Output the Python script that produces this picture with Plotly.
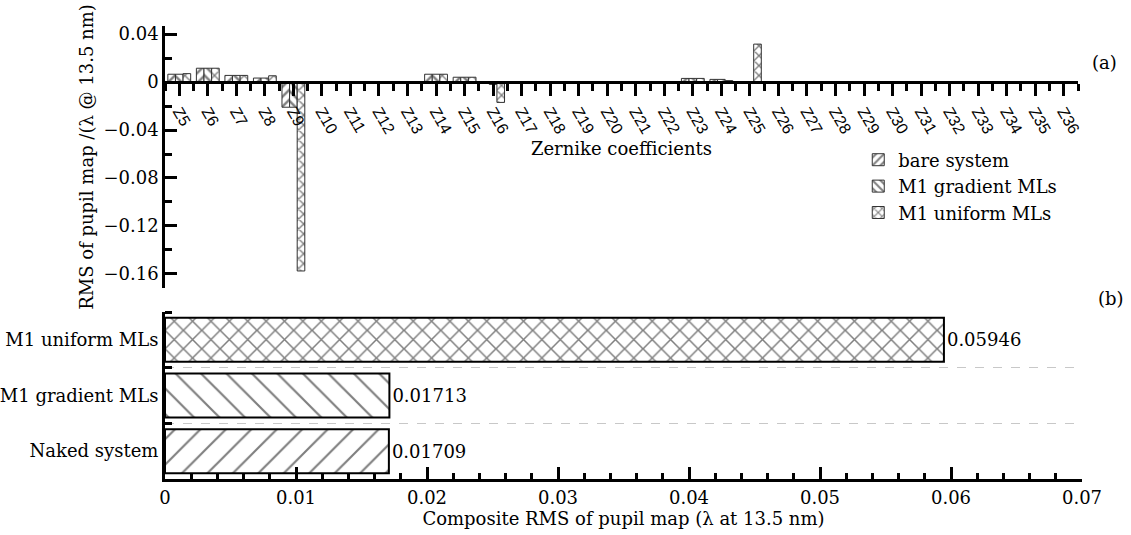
import plotly.graph_objects as go

# ---------------- data ----------------
zernike_labels = ["Z5", "Z6", "Z7", "Z8", "Z9", "Z10", "Z11", "Z12", "Z13", "Z14",
                  "Z15", "Z16", "Z17", "Z18", "Z19", "Z20", "Z21", "Z22", "Z23", "Z24",
                  "Z25", "Z26", "Z27", "Z28", "Z29", "Z30", "Z31", "Z32", "Z33", "Z34",
                  "Z35", "Z36"]
zernike_pos = list(range(len(zernike_labels)))

bare_system = [0.0065, 0.0115, 0.0055, 0.0033, -0.021, 0, 0, 0, 0, 0.0065,
               0.004, -0.001, 0, 0, 0, 0, 0, 0, 0.003, 0.0022,
               0, 0, 0, 0, 0, 0, 0, 0, 0, 0, 0, 0]
m1_gradient = [0.0065, 0.0115, 0.0055, 0.0033, -0.021, 0, 0, 0, 0, 0.0065,
               0.004, -0.002, 0, 0, 0, 0, 0, 0, 0.003, 0.0022,
               0, 0, 0, 0, 0, 0, 0, 0, 0, 0, 0, 0]
m1_uniform = [0.007, 0.0115, 0.0055, 0.0052, -0.1575, 0, 0, 0, 0, 0.0065,
              0.004, -0.017, 0, 0, 0, 0, 0, 0, 0.003, 0.0012,
              0.0316, 0, 0, 0, 0, 0, 0, 0, 0, 0, 0, 0]

top_ytick_vals = [0.04, 0, -0.04, -0.08, -0.12, -0.16]
top_ytick_text = ["0.04", "0", "\u22120.04", "\u22120.08", "\u22120.12", "\u22120.16"]

composite_labels = ["Naked system", "M1 gradient MLs", "M1 uniform MLs"]
composite_pos = [0, 1, 2]
composite_rms = [0.01709, 0.01713, 0.05946]
composite_text = ["0.01709", "0.01713", "0.05946"]
composite_patterns = ["/", "\\", "x"]
composite_pattern_size = [18, 18, 13]

bottom_xtick_vals = [0, 0.01, 0.02, 0.03, 0.04, 0.05, 0.06, 0.07]
bottom_xtick_text = ["0", "0.01", "0.02", "0.03", "0.04", "0.05", "0.06", "0.07"]

# ---------------- layout geometry ----------------
W, H = 1131, 535
ML, MR, MT, MB = 165, 49, 26, 56
plot_h = H - MT - MB
plot_w = W - ML - MR
top_bottom_px = 288
bot_top_px = 312
top_domain = [(H - MB - top_bottom_px) / plot_h, 1.0]
bot_domain = [0.0, (H - MB - bot_top_px) / plot_h]
top_xdomain_end = (1078 - ML) / plot_w

top_yrange = [-0.1717, 0.0467]
zero_frac = (0 - top_yrange[0]) / (top_yrange[1] - top_yrange[0])
xaxis_pos = top_domain[0] + (top_domain[1] - top_domain[0]) * zero_frac

SERIF = "DejaVu Serif"
SANS = "Liberation Sans"
FS = 18

fig = go.Figure()

top_series = [
    ("bare system", bare_system, "/"),
    ("M1 gradient MLs", m1_gradient, "\\"),
    ("M1 uniform MLs", m1_uniform, "x"),
]
for name, vals, pat in top_series:
    fig.add_trace(go.Bar(
        x=zernike_pos, y=vals, name=name,
        xaxis="x", yaxis="y",
        marker=dict(color="white", line=dict(color="#333", width=1),
                    pattern=dict(shape=pat, fgcolor="black", bgcolor="white",
                                 size=7, solidity=0.35)),
        showlegend=True,
    ))

fig.add_trace(go.Bar(
    x=composite_rms, y=composite_pos, orientation="h",
    xaxis="x2", yaxis="y2", showlegend=False,
    text=composite_text, textposition="outside", cliponaxis=False,
    textfont=dict(family=SERIF, size=FS, color="black"),
    width=0.79,
    marker=dict(color="white", line=dict(color="black", width=2),
                pattern=dict(shape=composite_patterns, fgcolor="black", bgcolor="white",
                             size=composite_pattern_size, solidity=[0.12, 0.12, 0.22])),
))

fig.update_layout(
    width=W, height=H,
    margin=dict(l=ML, r=MR, t=MT, b=MB, autoexpand=False),
    paper_bgcolor="white", plot_bgcolor="white",
    barmode="group", bargap=0.2, bargroupgap=0,
    font=dict(family=SERIF, size=FS, color="black"),
    legend=dict(x=0.756, y=0.745, xanchor="left", yanchor="top",
                font=dict(family=SERIF, size=FS, color="black"),
                bgcolor="rgba(0,0,0,0)", tracegroupgap=0, itemwidth=30),
    xaxis=dict(
        domain=[0, top_xdomain_end], anchor="free", position=xaxis_pos,
        range=[-0.5, len(zernike_labels) - 0.5],
        tickmode="array", tickvals=zernike_pos, ticktext=zernike_labels,
        tickangle=60, tickfont=dict(family=SANS, size=16, color="black"),
        ticks="outside", ticklen=12, tickwidth=2.5, tickcolor="black",
        minor=dict(tickmode="linear", tick0=0.5, dtick=1, ticks="outside",
                   ticklen=7, tickwidth=2.5, tickcolor="black", showgrid=False),
        showline=True, linecolor="black", linewidth=3,
        showgrid=False, zeroline=False,
        title=dict(text="Zernike coefficients", standoff=6,
                   font=dict(family=SERIF, size=FS, color="black")),
    ),
    yaxis=dict(
        domain=top_domain, anchor="x", range=top_yrange,
        tickmode="array", tickvals=top_ytick_vals, ticktext=top_ytick_text,
        ticks="inside", ticklen=12, tickwidth=2.5, tickcolor="black",
        minor=dict(tickmode="linear", tick0=0.02, dtick=0.04, ticks="inside",
                   ticklen=7, tickwidth=2.5, tickcolor="black", showgrid=False),
        tickfont=dict(family=SERIF, size=FS, color="black"),
        showline=True, linecolor="black", linewidth=2.5,
        showgrid=False, zeroline=False,
        title=dict(text="RMS of pupil map /(\u03bb @ 13.5 nm)", standoff=6,
                   font=dict(family=SERIF, size=FS, color="black")),
    ),
    xaxis2=dict(
        domain=[0, 1], anchor="y2", range=[0, 0.07],
        tickmode="array", tickvals=bottom_xtick_vals, ticktext=bottom_xtick_text,
        ticks="inside", ticklen=12, tickwidth=2.5, tickcolor="black",
        minor=dict(tickmode="linear", tick0=0, dtick=0.002, ticks="inside",
                   ticklen=6, tickwidth=2.5, tickcolor="black", showgrid=False),
        tickfont=dict(family=SERIF, size=FS, color="black"),
        showline=True, linecolor="black", linewidth=3,
        showgrid=False, zeroline=False,
        title=dict(text="Composite RMS of pupil map (\u03bb at 13.5 nm)", standoff=2,
                   font=dict(family=SERIF, size=FS, color="black")),
    ),
    yaxis2=dict(
        domain=bot_domain, anchor="x2", range=[-0.5, 2.5],
        tickmode="array", tickvals=composite_pos, ticktext=composite_labels,
        ticks="", tickfont=dict(family=SERIF, size=FS, color="black"),
        minor=dict(tickmode="array", tickvals=[0.5, 1.5, 2.5], ticks="inside",
                   ticklen=7, tickwidth=2.5, tickcolor="black",
                   showgrid=True, gridcolor="#c8c8c8", griddash="dash", gridwidth=1),
        showline=True, linecolor="black", linewidth=3,
        showgrid=False, zeroline=False,
    ),
    annotations=[
        dict(text="(a)", xref="paper", yref="paper", x=1.0 + 8 / plot_w,
             y=(H - MB - 63) / plot_h, xanchor="left", yanchor="middle",
             showarrow=False, font=dict(family=SERIF, size=FS, color="black")),
        dict(text="(b)", xref="paper", yref="paper", x=1.0 + 14 / plot_w,
             y=(H - MB - 298) / plot_h, xanchor="left", yanchor="middle",
             showarrow=False, font=dict(family=SERIF, size=FS, color="black")),
    ],
)

fig.write_html("out.html")
